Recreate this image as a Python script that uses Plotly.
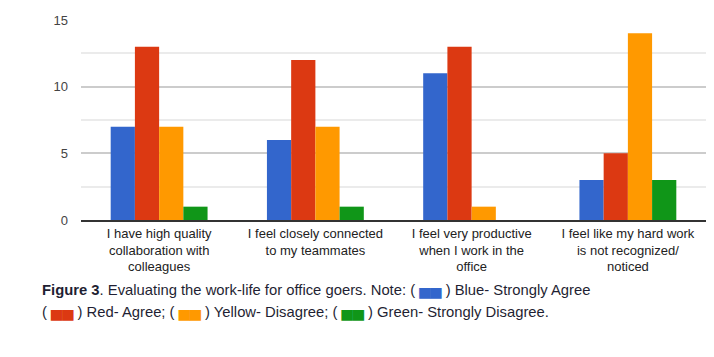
import plotly.graph_objects as go

categories = [
    "I have high quality<br>collaboration with<br>colleagues",
    "I feel closely connected<br>to my teammates",
    "I feel very productive<br>when I work in the<br>office",
    "I feel like my hard work<br>is not recognized/<br>noticed",
]
series_names = ["Strongly Agree", "Agree", "Disagree", "Strongly Disagree"]
strongly_agree = [7, 6, 11, 3]
agree = [13, 12, 13, 5]
disagree = [7, 7, 1, 14]
strongly_disagree = [1, 1, 0, 3]
series_colors = ["#3366cc", "#dc3912", "#ff9900", "#109618"]
y_ticks = [0, 5, 10, 15]
major_grid = [5, 10]
minor_grid = [2.5, 7.5, 12.5]

values = [strongly_agree, agree, disagree, strongly_disagree]

fig = go.Figure()
for name, vals, col in zip(series_names, values, series_colors):
    fig.add_trace(go.Bar(x=categories, y=vals, name=name, marker_color=col,
                         marker_line_width=0, showlegend=False))

# invisible trace on overlay axis to carry major gridlines
fig.add_trace(go.Scatter(x=categories, y=[None]*4, yaxis="y2", showlegend=False,
                         hoverinfo="skip"))

fig.update_layout(
    width=714, height=357,
    margin=dict(l=81, r=8, t=20, b=137),
    paper_bgcolor="white", plot_bgcolor="white",
    barmode="group", bargap=0.38, bargroupgap=0,
    font=dict(family="Arial, Liberation Sans, sans-serif", color="#222222"),
    xaxis=dict(showgrid=False, showline=True, linecolor="#333333", linewidth=2,
               tickfont=dict(size=13, color="#222222"), ticks=""),
    yaxis=dict(range=[0, 15], tickvals=y_ticks, showgrid=False, zeroline=False,
               tickfont=dict(size=13, color="#444444"), ticklabelstandoff=12,
               minor=dict(tickvals=minor_grid, showgrid=True, gridcolor="#ebebeb",
                          gridwidth=2, ticks="")),
    yaxis2=dict(range=[0, 15], overlaying="y", tickvals=major_grid,
                showticklabels=False, showgrid=True, gridcolor="#cccccc",
                gridwidth=2, zeroline=False),
)

cap_font = dict(family="Arial, Liberation Sans, sans-serif",
                size=14.8, color="#1f1f33")

def sw(c):
    return f"<span style='color:{c};font-family:DejaVu Sans;font-size:14.5px'>▅▅</span>"

line1 = ("<b>Figure 3</b>. Evaluating the work-life for office goers. Note: ( "
         + sw(series_colors[0]) + " ) Blue- Strongly Agree")
line2 = ("( " + sw(series_colors[1]) + " ) Red- Agree; ( " + sw(series_colors[2])
         + " ) Yellow- Disagree; ( " + sw(series_colors[3]) + " ) Green- Strongly Disagree.")

fig.add_annotation(text=line1, xref="paper", yref="paper", x=-0.0656, y=-0.298,
                   xanchor="left", yanchor="top", showarrow=False, align="left",
                   font=cap_font)
fig.add_annotation(text=line2, xref="paper", yref="paper", x=-0.0656, y=-0.41,
                   xanchor="left", yanchor="top", showarrow=False, align="left",
                   font=cap_font)

fig.write_html("out.html", config={"displayModeBar": False},
               post_script="document.body.style.margin='0';")
